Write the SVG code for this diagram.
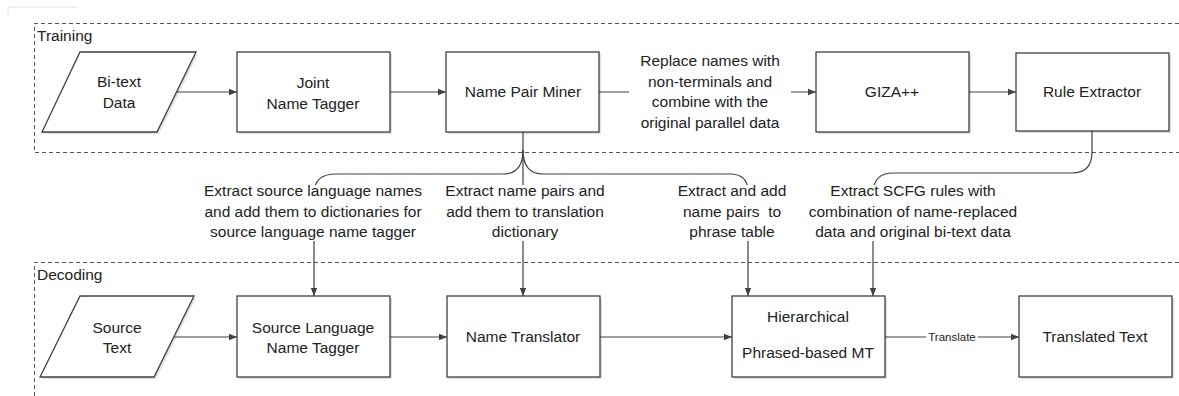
<svg xmlns="http://www.w3.org/2000/svg" width="1179" height="396" viewBox="0 0 1179 396">
<style>
text{font-family:"Liberation Sans",Arial,sans-serif;font-size:15.5px;fill:#222;text-anchor:middle}
.lbl{text-anchor:start}
.small{font-size:11.5px}
.box{fill:#fff;stroke:#404040;stroke-width:1.3}
.shadow{fill:#000;opacity:0.12}
.dash{fill:none;stroke:#555;stroke-width:1;stroke-dasharray:4 3}
.con{fill:none;stroke:#404040;stroke-width:1.2}
.mask{fill:#fff}
</style>
<defs>
<marker id="arr" viewBox="0 0 8 8" refX="8" refY="4" markerWidth="8" markerHeight="8" markerUnits="userSpaceOnUse" orient="auto">
<path d="M0,0.8 L8,4 L0,7.2 Z" fill="#404040"/>
</marker>
</defs>
<rect width="1179" height="396" fill="#fff"/>
<path d="M8,17 V7 H78" fill="none" stroke="#e2e2e2" stroke-width="1"/>

<g id="training-frame">
<path class="dash" d="M1179,23.5 H34.5 V152.5 H1179"/>
<text class="lbl" x="37" y="41">Training</text>
</g>
<g id="decoding-frame">
<path class="dash" d="M1179,262.5 H34.5 V396"/>
<text class="lbl" x="37" y="280">Decoding</text>
</g>

<g id="connectors">
<line class="con" x1="157" y1="92" x2="237" y2="92" marker-end="url(#arr)"/>
<line class="con" x1="390" y1="92" x2="446" y2="92" marker-end="url(#arr)"/>
<line class="con" x1="599" y1="92" x2="816" y2="92" marker-end="url(#arr)"/>
<line class="con" x1="969" y1="92" x2="1016" y2="92" marker-end="url(#arr)"/>
<line class="con" x1="157" y1="337" x2="237" y2="337" marker-end="url(#arr)"/>
<line class="con" x1="390" y1="337" x2="447" y2="337" marker-end="url(#arr)"/>
<line class="con" x1="600" y1="337" x2="732" y2="337" marker-end="url(#arr)"/>
<line class="con" x1="885" y1="337" x2="1019" y2="337" marker-end="url(#arr)"/>
<path class="con" d="M523,132 V296" marker-end="url(#arr)"/>
<path class="con" d="M523,150 Q523,174 503,174 H336 Q315,174 314,192 V296" marker-end="url(#arr)"/>
<path class="con" d="M523,150 Q523,174 543,174 H730 Q748,174 748,192 V296" marker-end="url(#arr)"/>
<path class="con" d="M1092,131 V152 Q1092,173 1072,173 H893 Q874,173 873,192 V296" marker-end="url(#arr)"/>
<rect class="mask" x="629" y="50" width="162" height="84"/>
<rect class="mask" x="926" y="330" width="52" height="14"/>
<rect class="mask" x="203" y="185" width="222" height="56"/>
<rect class="mask" x="438" y="185" width="174" height="56"/>
<rect class="mask" x="674" y="185" width="116" height="56"/>
<rect class="mask" x="800" y="185" width="226" height="56"/>
<text x="710" y="66">Replace names with</text>
<text x="710" y="86.5">non-terminals and</text>
<text x="710" y="107">combine with the</text>
<text x="710" y="127.5">original parallel data</text>
<text class="small" x="952" y="341">Translate</text>
<text x="313" y="196">Extract source language names</text>
<text x="313" y="216.5">and add them to dictionaries for</text>
<text x="313" y="237">source language name tagger</text>
<text x="525" y="196">Extract name pairs and</text>
<text x="525" y="216.5">add them to translation</text>
<text x="525" y="237">dictionary</text>
<text x="732" y="196">Extract and add</text>
<text x="732" y="216.5" xml:space="preserve">name pairs  to</text>
<text x="732" y="237">phrase table</text>
<text x="913" y="196">Extract SCFG rules with</text>
<text x="913" y="216.5">combination of name-replaced</text>
<text x="913" y="237">data and original bi-text data</text>
</g>

<g id="bitext">
<path class="shadow" d="M82,54 H198 L159,134 H44 Z"/>
<path class="box" d="M80,52 H196 L157,132 H42 Z"/>
<text x="119" y="87">Bi-text</text>
<text x="119" y="108">Data</text>
</g>
<g id="joint-tagger">
<rect class="shadow" x="239" y="54" width="153" height="80"/>
<rect class="box" x="237" y="52" width="153" height="80"/>
<text x="313" y="88">Joint</text>
<text x="313" y="109">Name Tagger</text>
</g>
<g id="name-pair-miner">
<rect class="shadow" x="448" y="54" width="153" height="80"/>
<rect class="box" x="446" y="52" width="153" height="80"/>
<text x="523" y="97">Name Pair Miner</text>
</g>
<g id="giza">
<rect class="shadow" x="818" y="54" width="153" height="80"/>
<rect class="box" x="816" y="52" width="153" height="80"/>
<text x="892" y="97">GIZA++</text>
</g>
<g id="rule-extractor">
<rect class="shadow" x="1018" y="55" width="153" height="78"/>
<rect class="box" x="1016" y="53" width="153" height="78"/>
<text x="1092" y="97">Rule Extractor</text>
</g>

<g id="source-text">
<path class="shadow" d="M82,298 H196 L156,379 H42 Z"/>
<path class="box" d="M80,296 H194 L154,377 H40 Z"/>
<text x="117" y="333">Source</text>
<text x="117" y="353">Text</text>
</g>
<g id="source-tagger">
<rect class="shadow" x="239" y="298" width="153" height="81"/>
<rect class="box" x="237" y="296" width="153" height="81"/>
<text x="313" y="333">Source Language</text>
<text x="313" y="353">Name Tagger</text>
</g>
<g id="name-translator">
<rect class="shadow" x="449" y="298" width="153" height="81"/>
<rect class="box" x="447" y="296" width="153" height="81"/>
<text x="523" y="342">Name Translator</text>
</g>
<g id="hiero-mt">
<rect class="shadow" x="734" y="298" width="153" height="81"/>
<rect class="box" x="732" y="296" width="153" height="81"/>
<text x="808" y="322">Hierarchical</text>
<text x="808" y="358">Phrased-based MT</text>
</g>
<g id="translated-text">
<rect class="shadow" x="1021" y="298" width="153" height="81"/>
<rect class="box" x="1019" y="296" width="153" height="81"/>
<text x="1095" y="342">Translated Text</text>
</g>
</svg>
